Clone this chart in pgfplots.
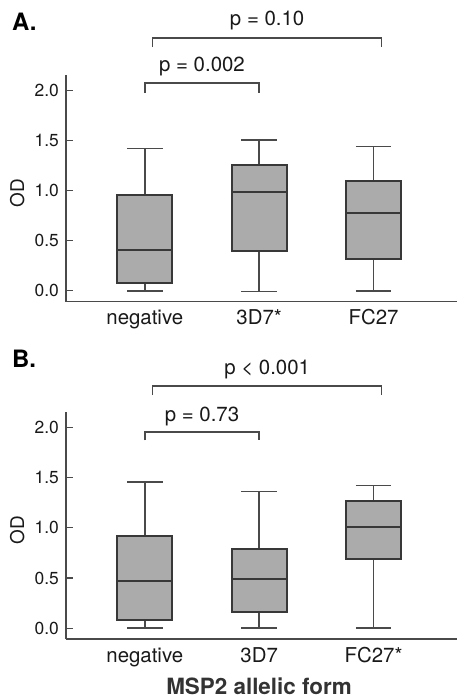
\documentclass[border=0pt]{standalone}
\usepackage{fontspec}
\setmainfont{TeX Gyre Heros}
\usepackage{pgfplots}
\pgfplotsset{compat=1.18}
\usepgfplotslibrary{statistics}

\definecolor{boxfill}{HTML}{ABABAB}
\definecolor{boxline}{HTML}{383838}
\definecolor{axisgray}{HTML}{4A4A4A}

\tikzset{ptext/.style={font=\fontsize{20.5}{23}\selectfont, text=black!90}}

\pgfplotsset{
  odpanel/.style={
    scale only axis,
    width=391bp, height=226.7bp,
    xmin=0.311, xmax=3.73,
    ymin=-0.107, ymax=2.15,
    axis x line*=bottom, axis y line*=left,
    axis line style={axisgray, line width=1.5bp},
    xtick={1,2,3},
    x tick style={draw=none},
    ytick={0,0.5,1,1.5,2},
    y tick style={axisgray, line width=1.1bp},
    tick align=inside,
    major tick length=7bp,
    /pgf/number format/assume math mode=true,
    yticklabel style={/pgf/number format/fixed, /pgf/number format/fixed zerofill,
      /pgf/number format/precision=1, anchor=east, inner sep=0pt, xshift=-7bp,
      font=\fontsize{17.5}{20}\selectfont, text=black!90},
    xticklabel style={anchor=base, inner sep=0pt, yshift=-23bp,
      font=\fontsize{20.5}{23}\selectfont, text=black!90},
    ylabel={OD},
    ylabel style={at={(axis description cs:-0.125,0.48)}, anchor=center,
      font=\fontsize{19}{21}\selectfont, text=black!90},
    clip=false,
  },
  odbox/.style={draw=boxline, fill=boxfill, line width=2bp, solid,
    boxplot/draw direction=y,
    boxplot/box extend=0.48, boxplot/whisker extend=0.31,
    boxplot/every whisker/.style={draw=axisgray, line width=1.6bp},
    boxplot/every median/.style={draw=boxline, line width=2.2bp}},
  bracket/.style={axisgray, line width=1.6bp, mark=none, forget plot},
}

\begin{document}
\begin{tikzpicture}
\useasboundingbox (0,0) rectangle (457bp,698bp);

% panel A
\begin{axis}[odpanel, at={(66bp,396.3bp)}, anchor=south west,
  xticklabels={negative,3D7*,FC27}]
\addplot[odbox, boxplot prepared={draw position=1, lower whisker=0.0,
  lower quartile=0.08, median=0.41, upper quartile=0.956, upper whisker=1.417}]
  coordinates {};
\addplot[odbox, boxplot prepared={draw position=2, lower whisker=-0.005,
  lower quartile=0.395, median=0.983, upper quartile=1.25, upper whisker=1.504}]
  coordinates {};
\addplot[odbox, boxplot prepared={draw position=3, lower whisker=0.0,
  lower quartile=0.319, median=0.78, upper quartile=1.096, upper whisker=1.437}]
  coordinates {};
\addplot[bracket] coordinates {(1,1.97) (1,2.069) (2,2.069) (2,1.97)};
\addplot[bracket] coordinates {(1.067,2.427) (1.067,2.52) (3.07,2.52) (3.07,2.427)};
\node[ptext] at (axis cs:1.5,2.23) {p = 0.002};
\node[ptext] at (axis cs:2.07,2.69) {p = 0.10};
\end{axis}
\node[anchor=base west, inner sep=0pt, font=\fontsize{24}{26}\selectfont\bfseries]
  at (12bp,667bp) {A.};

% panel B
\begin{axis}[odpanel, at={(66bp,59bp)}, anchor=south west,
  xticklabels={negative,3D7,FC27*},
  xlabel={MSP2 allelic form},
  xlabel style={at={(axis description cs:0.4936,0)}, anchor=base, inner sep=0pt,
    yshift=-55bp, font=\fontsize{22.5}{24}\selectfont\bfseries, text=black!80}]
\addplot[odbox, boxplot prepared={draw position=1, lower whisker=0.0,
  lower quartile=0.083, median=0.474, upper quartile=0.918, upper whisker=1.459}]
  coordinates {};
\addplot[odbox, boxplot prepared={draw position=2, lower whisker=0.0,
  lower quartile=0.159, median=0.488, upper quartile=0.792, upper whisker=1.363}]
  coordinates {};
\addplot[odbox, boxplot prepared={draw position=3, lower whisker=0.0,
  lower quartile=0.687, median=1.011, upper quartile=1.27, upper whisker=1.423}]
  coordinates {};
\addplot[bracket] coordinates {(1,1.87) (1,1.956) (2,1.956) (2,1.87)};
\addplot[bracket] coordinates {(1.067,2.32) (1.067,2.41) (3.07,2.41) (3.07,2.32)};
\node[ptext] at (axis cs:1.5,2.11) {p = 0.73};
\node[ptext] at (axis cs:2.07,2.58) {p < 0.001};
\end{axis}
\node[anchor=base west, inner sep=0pt, font=\fontsize{24}{26}\selectfont\bfseries]
  at (12bp,330bp) {B.};
\end{tikzpicture}
\end{document}
